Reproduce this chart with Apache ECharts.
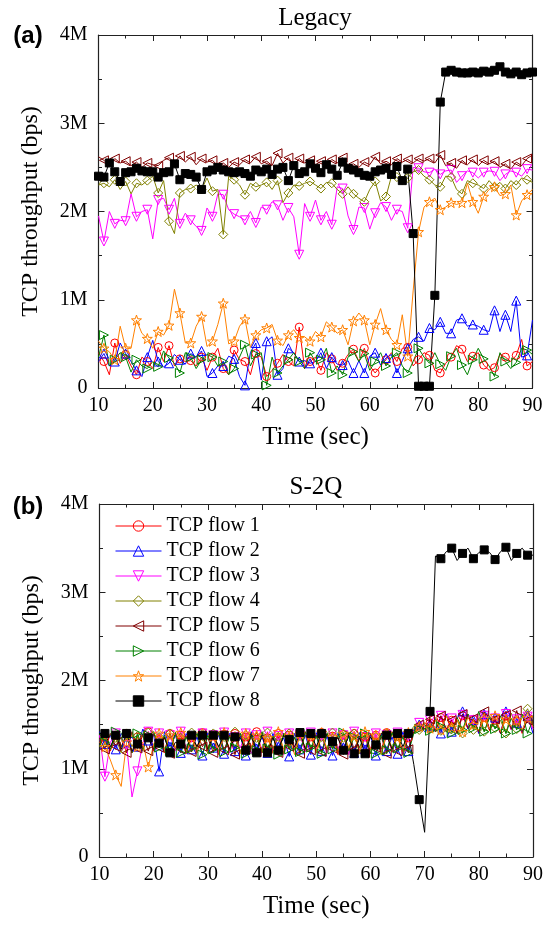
<!DOCTYPE html>
<html>
<head>
<meta charset="utf-8">
<script src="https://cdn.jsdelivr.net/npm/echarts@6/dist/echarts.min.js"></script>
<style>
  html, body { margin: 0; padding: 0; background: #fff; }
  #chart { width: 553px; height: 929px; }
</style>
</head>
<body>
<div id="chart"></div>
<script>
// time axis (sec)
var times = [10, 11, 12, 13, 14, 15, 16, 17, 18, 19, 20, 21, 22, 23, 24, 25, 26, 27, 28, 29,
    30, 31, 32, 33, 34, 35, 36, 37, 38, 39, 40, 41, 42, 43, 44, 45, 46, 47, 48, 49,
    50, 51, 52, 53, 54, 55, 56, 57, 58, 59, 60, 61, 62, 63, 64, 65, 66, 67, 68, 69,
    70, 71, 72, 73, 74, 75, 76, 77, 78, 79, 80, 81, 82, 83, 84, 85, 86, 87, 88, 89, 90];
var flowNames = ['TCP flow 1', 'TCP flow 2', 'TCP flow 3', 'TCP flow 4', 'TCP flow 5', 'TCP flow 6', 'TCP flow 7', 'TCP flow 8'];
var yTicks = [0, 1, 2, 3, 4];  // Mbps
var xTicks = [10, 20, 30, 40, 50, 60, 70, 80, 90];

// (a) Legacy, throughput in Mbps
var legacy1 = [0.40, 0.30, 0.15, 0.51, 0.28, 0.38, 0.25, 0.15, 0.35, 0.30,
    0.22, 0.46, 0.30, 0.48, 0.25, 0.33, 0.30, 0.31, 0.25, 0.35,
    0.20, 0.35, 0.45, 0.22, 0.15, 0.43, 0.32, 0.30, 0.15, 0.39,
    0.35, 0.13, 0.20, 0.28, 0.38, 0.30, 0.25, 0.69, 0.22, 0.30,
    0.35, 0.20, 0.40, 0.33, 0.20, 0.28, 0.38, 0.44, 0.30, 0.45,
    0.25, 0.17, 0.25, 0.32, 0.40, 0.30, 0.45, 0.46, 0.25, 0.32,
    0.40, 0.37, 0.20, 0.17, 0.28, 0.35, 0.48, 0.44, 0.30, 0.36,
    0.40, 0.26, 0.20, 0.23, 0.38, 0.35, 0.30, 0.37, 0.55, 0.25, 0.30];
var legacy2 = [0.30, 0.39, 0.25, 0.30, 0.51, 0.39, 0.30, 0.20, 0.13, 0.35,
    0.54, 0.30, 0.24, 0.28, 0.38, 0.32, 0.27, 0.39, 0.35, 0.42,
    0.13, 0.17, 0.25, 0.25, 0.36, 0.33, 0.13, 0.03, 0.40, 0.51,
    0.09, 0.53, 0.58, 0.15, 0.22, 0.45, 0.40, 0.30, 0.31, 0.28,
    0.30, 0.40, 0.22, 0.35, 0.27, 0.26, 0.31, 0.17, 0.31, 0.17,
    0.36, 0.40, 0.26, 0.34, 0.38, 0.17, 0.31, 0.45, 0.55, 0.58,
    0.53, 0.68, 0.66, 0.75, 0.62, 0.62, 0.77, 0.79, 0.70, 0.72,
    0.70, 0.66, 0.64, 0.88, 0.64, 0.83, 0.64, 0.99, 0.35, 0.37, 0.77];
var legacy3 = [1.95, 1.66, 2.00, 1.86, 1.90, 1.89, 2.20, 1.94, 2.00, 2.02,
    1.69, 2.13, 2.15, 2.02, 2.15, 1.86, 1.98, 1.90, 1.83, 1.78,
    2.04, 1.94, 2.20, 2.19, 2.02, 1.97, 1.94, 1.90, 2.00, 1.87,
    2.05, 2.02, 2.11, 2.07, 1.90, 2.04, 1.94, 1.51, 2.09, 1.94,
    2.13, 1.90, 2.00, 1.85, 2.28, 2.26, 1.95, 1.79, 2.05, 2.04,
    1.80, 1.98, 2.10, 2.05, 1.90, 2.02, 2.00, 1.81, 2.50, 2.49,
    2.45, 2.44, 2.48, 2.42, 2.46, 2.47, 2.33, 2.40, 2.46, 2.44,
    2.38, 2.44, 2.46, 2.45, 2.35, 2.42, 2.46, 2.44, 2.40, 2.48, 2.47];
var legacy4 = [2.30, 2.32, 2.28, 2.36, 2.25, 2.34, 2.20, 2.32, 2.30, 2.35,
    2.40, 2.21, 2.35, 1.89, 1.75, 2.21, 2.25, 2.26, 2.30, 2.25,
    2.38, 2.23, 2.25, 1.74, 2.40, 2.36, 2.30, 2.19, 2.32, 2.28,
    2.30, 2.33, 2.25, 2.35, 2.10, 2.21, 2.30, 2.29, 2.32, 2.34,
    2.30, 2.26, 2.33, 2.32, 2.25, 2.20, 2.28, 2.20, 2.15, 2.11,
    2.25, 2.34, 2.12, 2.17, 2.40, 2.39, 2.30, 2.38, 2.45, 2.47,
    2.40, 2.36, 2.30, 2.28, 2.40, 2.39, 2.25, 2.20, 2.35, 2.32,
    2.30, 2.26, 2.35, 2.28, 2.33, 2.26, 2.35, 2.30, 2.38, 2.36, 2.33];
var legacy5 = [2.62, 2.58, 2.52, 2.60, 2.55, 2.57, 2.52, 2.56, 2.50, 2.55,
    2.53, 2.52, 2.58, 2.61, 2.55, 2.63, 2.56, 2.62, 2.53, 2.60,
    2.56, 2.58, 2.52, 2.55, 2.50, 2.56, 2.53, 2.59, 2.55, 2.62,
    2.54, 2.57, 2.52, 2.66, 2.55, 2.61, 2.53, 2.60, 2.55, 2.58,
    2.53, 2.57, 2.52, 2.59, 2.55, 2.61, 2.52, 2.54, 2.50, 2.56,
    2.53, 2.62, 2.54, 2.57, 2.53, 2.60, 2.56, 2.59, 2.55, 2.60,
    2.57, 2.60, 2.55, 2.64, 2.52, 2.55, 2.49, 2.58, 2.53, 2.59,
    2.52, 2.58, 2.54, 2.57, 2.50, 2.54, 2.48, 2.56, 2.52, 2.60, 2.64];
var legacy6 = [0.35, 0.60, 0.25, 0.32, 0.40, 0.35, 0.18, 0.32, 0.25, 0.22,
    0.30, 0.24, 0.42, 0.34, 0.28, 0.17, 0.40, 0.35, 0.22, 0.32,
    0.38, 0.35, 0.25, 0.30, 0.15, 0.22, 0.35, 0.49, 0.25, 0.38,
    0.40, 0.03, 0.35, 0.17, 0.25, 0.32, 0.40, 0.30, 0.22, 0.40,
    0.30, 0.32, 0.45, 0.17, 0.25, 0.15, 0.35, 0.41, 0.30, 0.39,
    0.20, 0.30, 0.40, 0.25, 0.35, 0.40, 0.25, 0.17, 0.30, 0.45,
    0.35, 0.28, 0.40, 0.27, 0.20, 0.36, 0.45, 0.26, 0.15, 0.32,
    0.45, 0.33, 0.25, 0.13, 0.40, 0.30, 0.22, 0.29, 0.45, 0.43, 0.38];
var legacy7 = [0.53, 0.45, 0.41, 0.32, 0.70, 0.45, 0.45, 0.77, 0.62, 0.56,
    0.45, 0.64, 0.60, 0.71, 1.12, 0.85, 0.51, 0.51, 0.70, 0.81,
    0.47, 0.53, 0.72, 0.96, 0.50, 0.53, 0.70, 0.78, 0.46, 0.60,
    0.66, 0.68, 0.72, 0.54, 0.48, 0.60, 0.66, 0.57, 0.58, 0.53,
    0.64, 0.58, 0.75, 0.69, 0.62, 0.66, 0.49, 0.76, 0.85, 0.77,
    0.49, 0.72, 0.90, 0.66, 0.55, 0.49, 0.83, 0.36, 1.10, 1.77,
    2.05, 2.11, 2.15, 2.02, 2.05, 2.10, 2.08, 2.10, 2.32, 2.11,
    1.98, 2.17, 2.25, 2.28, 2.18, 2.20, 2.30, 1.96, 2.12, 2.19, 2.25];
var legacy8 = [2.40, 2.39, 2.55, 2.45, 2.34, 2.44, 2.45, 2.49, 2.46, 2.45,
    2.45, 2.39, 2.44, 2.45, 2.54, 2.36, 2.43, 2.42, 2.39, 2.25,
    2.45, 2.47, 2.50, 2.47, 2.45, 2.44, 2.45, 2.43, 2.40, 2.47,
    2.45, 2.48, 2.42, 2.48, 2.50, 2.35, 2.52, 2.43, 2.45, 2.54,
    2.49, 2.44, 2.53, 2.48, 2.41, 2.56, 2.49, 2.47, 2.44, 2.41,
    2.40, 2.45, 2.47, 2.49, 2.42, 2.51, 2.35, 2.48, 1.75, 0.02,
    0.02, 0.02, 1.05, 3.24, 3.58, 3.60, 3.58, 3.57, 3.57, 3.58,
    3.57, 3.59, 3.58, 3.60, 3.64, 3.58, 3.56, 3.58, 3.55, 3.57, 3.58];

// (b) S-2Q, throughput in Mbps
var s2q1 = [1.30, 1.35, 1.20, 1.38, 1.25, 1.40, 1.18, 1.36, 1.24, 1.42,
    1.20, 1.33, 1.18, 1.40, 1.22, 1.38, 1.17, 1.35, 1.25, 1.41,
    1.20, 1.37, 1.16, 1.39, 1.22, 1.40, 1.19, 1.36, 1.24, 1.42,
    1.18, 1.35, 1.21, 1.40, 1.17, 1.38, 1.23, 1.40, 1.19, 1.36,
    1.22, 1.41, 1.18, 1.37, 1.16, 1.39, 1.21, 1.40, 1.20, 1.36,
    1.17, 1.38, 1.22, 1.41, 1.19, 1.37, 1.16, 1.35, 1.40, 1.47,
    1.45, 1.52, 1.44, 1.58, 1.42, 1.55, 1.40, 1.60, 1.45, 1.56,
    1.40, 1.58, 1.43, 1.55, 1.41, 1.60, 1.44, 1.54, 1.40, 1.58, 1.46];
var s2q2 = [1.42, 1.28, 1.38, 1.22, 1.40, 1.30, 1.36, 1.25, 1.45, 1.32,
    1.38, 0.97, 1.42, 1.25, 1.38, 1.18, 1.40, 1.22, 1.36, 1.15,
    1.41, 1.24, 1.38, 1.17, 1.40, 1.20, 1.37, 1.15, 1.42, 1.23,
    1.36, 1.18, 1.40, 1.25, 1.35, 1.14, 1.40, 1.22, 1.38, 1.16,
    1.41, 1.20, 1.37, 1.15, 1.40, 1.24, 1.36, 1.18, 1.41, 1.22,
    1.38, 1.15, 1.40, 1.20, 1.36, 1.17, 1.42, 1.20, 1.45, 1.50,
    1.42, 1.48, 1.56, 1.40, 1.62, 1.42, 1.58, 1.65, 1.45, 1.55,
    1.40, 1.62, 1.44, 1.58, 1.40, 1.65, 1.45, 1.52, 1.42, 1.60, 1.40];
var s2q3 = [1.38, 0.91, 1.30, 1.40, 1.20, 1.27, 0.68, 0.97, 1.30, 1.42,
    1.25, 1.40, 1.22, 1.38, 1.20, 1.42, 1.24, 1.36, 1.18, 1.40,
    1.22, 1.38, 1.20, 1.41, 1.18, 1.36, 1.24, 1.40, 1.17, 1.38,
    1.22, 1.42, 1.20, 1.37, 1.16, 1.40, 1.24, 1.38, 1.19, 1.41,
    1.21, 1.37, 1.18, 1.40, 1.22, 1.38, 1.16, 1.42, 1.20, 1.36,
    1.23, 1.40, 1.18, 1.38, 1.21, 1.41, 1.17, 1.37, 1.45, 1.52,
    1.48, 1.55, 1.46, 1.60, 1.44, 1.57, 1.42, 1.61, 1.46, 1.55,
    1.42, 1.60, 1.45, 1.57, 1.41, 1.62, 1.44, 1.56, 1.42, 1.59, 1.45];
var s2q4 = [1.25, 1.38, 1.22, 1.35, 1.18, 1.40, 1.25, 1.37, 1.20, 1.41,
    1.24, 1.36, 1.19, 1.40, 1.23, 1.35, 1.18, 1.41, 1.22, 1.37,
    1.17, 1.40, 1.24, 1.36, 1.20, 1.42, 1.18, 1.38, 1.22, 1.35,
    1.19, 1.41, 1.23, 1.36, 1.17, 1.40, 1.21, 1.37, 1.24, 1.39,
    1.18, 1.36, 1.22, 1.41, 1.19, 1.35, 1.24, 1.40, 1.17, 1.38,
    1.21, 1.36, 1.16, 1.40, 1.23, 1.37, 1.20, 1.39, 1.48, 1.44,
    1.52, 1.46, 1.58, 1.43, 1.60, 1.45, 1.55, 1.40, 1.62, 1.44,
    1.57, 1.42, 1.60, 1.46, 1.55, 1.40, 1.63, 1.45, 1.58, 1.68, 1.50];
var s2q5 = [1.35, 1.22, 1.40, 1.25, 1.36, 1.18, 1.42, 1.23, 1.38, 1.20,
    1.40, 1.24, 1.36, 1.17, 1.41, 1.22, 1.37, 1.19, 1.40, 1.25,
    1.35, 1.18, 1.42, 1.21, 1.38, 1.16, 1.40, 1.24, 1.36, 1.19,
    1.41, 1.22, 1.37, 1.18, 1.40, 1.25, 1.35, 1.17, 1.42, 1.21,
    1.38, 1.19, 1.40, 1.23, 1.36, 1.16, 1.41, 1.22, 1.37, 1.18,
    1.40, 1.24, 1.36, 1.17, 1.42, 1.20, 1.38, 1.22, 1.42, 1.50,
    1.45, 1.56, 1.42, 1.60, 1.45, 1.55, 1.40, 1.62, 1.46, 1.57,
    1.42, 1.65, 1.44, 1.56, 1.40, 1.61, 1.45, 1.66, 1.42, 1.55, 1.60];
var s2q6 = [1.40, 1.30, 1.22, 1.42, 1.25, 1.36, 1.18, 1.40, 1.22, 1.38,
    1.42, 1.24, 1.38, 1.20, 1.41, 1.18, 1.36, 1.23, 1.40, 1.16,
    1.38, 1.22, 1.41, 1.19, 1.36, 1.24, 1.40, 1.17, 1.38, 1.21,
    1.42, 1.23, 1.37, 1.16, 1.40, 1.22, 1.36, 1.19, 1.41, 1.24,
    1.37, 1.17, 1.40, 1.22, 1.38, 1.41, 1.20, 1.36, 1.24, 1.40,
    1.18, 1.17, 1.38, 1.21, 1.41, 1.23, 1.36, 1.18, 1.40, 1.45,
    1.50, 1.43, 1.55, 1.48, 1.42, 1.40, 1.58, 1.44, 1.62, 1.46,
    1.65, 1.42, 1.58, 1.45, 1.60, 1.40, 1.57, 1.44, 1.62, 1.40, 1.56];
var s2q7 = [1.30, 1.25, 1.10, 0.93, 0.80, 1.30, 1.38, 1.25, 1.30, 1.02,
    1.28, 1.40, 1.22, 1.38, 1.24, 1.41, 1.20, 1.36, 1.18, 1.40,
    1.23, 1.37, 1.19, 1.41, 1.22, 1.36, 1.17, 1.40, 1.24, 1.38,
    1.20, 1.35, 1.18, 1.42, 1.22, 1.37, 1.16, 1.40, 1.23, 1.38,
    1.19, 1.41, 1.22, 1.36, 1.18, 1.40, 1.24, 1.37, 1.20, 1.42,
    1.22, 1.38, 1.17, 1.40, 1.23, 1.36, 1.19, 1.41, 1.45, 1.48,
    1.52, 1.46, 1.55, 1.44, 1.60, 1.47, 1.56, 1.42, 1.58, 1.50,
    1.44, 1.57, 1.45, 1.60, 1.42, 1.56, 1.48, 1.55, 1.44, 1.58, 1.48];
var s2q8 = [1.40, 1.40, 1.25, 1.38, 1.22, 1.40, 1.20, 1.28, 1.40, 1.35,
    1.22, 1.29, 1.35, 1.18, 1.30, 1.28, 1.22, 1.38, 1.25, 1.38,
    1.22, 1.38, 1.25, 1.38, 1.22, 1.36, 1.35, 1.21, 1.40, 1.18,
    1.38, 1.18, 1.35, 1.21, 1.38, 1.33, 1.25, 1.41, 1.22, 1.40,
    1.25, 1.40, 1.38, 1.31, 1.35, 1.21, 1.38, 1.17, 1.35, 1.17,
    1.36, 1.27, 1.40, 1.38, 1.22, 1.40, 1.25, 1.40, 1.05, 0.65,
    0.28, 1.65, 3.41, 3.38, 3.46, 3.50, 3.36, 3.44, 3.50, 3.38,
    3.45, 3.48, 3.45, 3.37, 3.46, 3.51, 3.36, 3.44, 3.50, 3.42, 3.42];

var legacyData = [legacy1, legacy2, legacy3, legacy4, legacy5, legacy6, legacy7, legacy8];
var s2qData = [s2q1, s2q2, s2q3, s2q4, s2q5, s2q6, s2q7, s2q8];

// marker styles, one per flow
var starPath = 'path://M0,-10L2.35,-3.24L9.51,-3.09L3.8,1.24L5.88,8.09L0,4L-5.88,8.09L-3.8,1.24L-9.51,-3.09L-2.35,-3.24Z';
var flowStyles = [
    { color: '#ff0000', symbol: 'circle', size: 8, rotate: 0 },
    { color: '#0000ff', symbol: 'triangle', size: 9, rotate: 0 },
    { color: '#ff00ff', symbol: 'triangle', size: 9, rotate: 180 },
    { color: '#808000', symbol: 'diamond', size: 9, rotate: 0 },
    { color: '#800000', symbol: 'triangle', size: 9, rotate: 90 },
    { color: '#008000', symbol: 'triangle', size: 9, rotate: -90 },
    { color: '#ff8000', symbol: starPath, size: 10, rotate: 0 },
    { color: '#000000', symbol: 'rect', size: 8, rotate: 0, filled: true }
];

var serifFont = 'Liberation Serif';
var axisColor = '#222';
var hollow = 'rgba(255,255,255,0)';

function makeSeries(vals, k, axisIdx, everyPoint) {
    var st = flowStyles[k];
    return {
        name: flowNames[k],
        type: 'line',
        xAxisIndex: axisIdx,
        yAxisIndex: axisIdx,
        data: vals.map(function (v, i) {
            var item = { value: [times[i], v] };
            if (!everyPoint && i % 2 === 0) item.symbol = 'none';
            return item;
        }),
        symbol: st.symbol,
        symbolSize: st.size,
        symbolRotate: st.rotate,
        showAllSymbol: true,
        lineStyle: { color: st.color, width: 1 },
        itemStyle: { color: st.filled ? st.color : hollow, borderColor: st.color, borderWidth: 1 },
        emphasis: { disabled: true }
    };
}

function xAxisOpt(gridIdx, pos, withLabels) {
    return {
        type: 'value', gridIndex: gridIdx, position: pos,
        min: xTicks[0], max: xTicks[xTicks.length - 1], interval: 10,
        axisLine: { show: true, onZero: false, lineStyle: { color: axisColor, width: 1.2 } },
        axisTick: { show: true, inside: true, length: 6, lineStyle: { color: axisColor } },
        minorTick: { show: true, splitNumber: 2, length: 3.5, lineStyle: { color: axisColor } },
        splitLine: { show: false },
        axisLabel: { show: withLabels, margin: 8, color: '#000', fontFamily: serifFont, fontSize: 20 },
        name: withLabels ? 'Time (sec)' : '',
        nameLocation: 'middle', nameGap: 37,
        nameTextStyle: { color: '#000', fontFamily: serifFont, fontSize: 25 }
    };
}

function yAxisOpt(gridIdx, pos, withLabels) {
    return {
        type: 'value', gridIndex: gridIdx, position: pos,
        min: yTicks[0], max: yTicks[yTicks.length - 1], interval: 1,
        axisLine: { show: true, onZero: false, lineStyle: { color: axisColor, width: 1.2 } },
        axisTick: { show: true, inside: true, length: 6, lineStyle: { color: axisColor } },
        minorTick: { show: true, splitNumber: 2, length: 3.5, lineStyle: { color: axisColor } },
        splitLine: { show: false },
        axisLabel: {
            show: withLabels, margin: 11, color: '#000', fontFamily: serifFont, fontSize: 20,
            formatter: function (v) { return v === 0 ? '0' : v + 'M'; }
        },
        name: withLabels ? 'TCP throughput (bps)' : '',
        nameLocation: 'middle', nameGap: 56, nameRotate: 90,
        nameTextStyle: { color: '#000', fontFamily: serifFont, fontSize: 24 }
    };
}

function textEl(txt, x, y, font) {
    return {
        type: 'text', x: x, y: y,
        style: { text: txt, font: font, fill: '#000', align: 'center', verticalAlign: 'middle',
            textAlign: 'center', textVerticalAlign: 'middle' }
    };
}

var series = [];
legacyData.forEach(function (vals, k) { series.push(makeSeries(vals, k, 0, k === 7)); });
s2qData.forEach(function (vals, k) { series.push(makeSeries(vals, k, 2, false)); });

// legend entries: thin line + hollow marker (filled square for flow 8)
var legendItems = flowNames.map(function (name, k) {
    var st = flowStyles[k];
    return {
        name: name,
        itemStyle: { color: st.filled ? st.color : hollow, borderColor: st.color, borderWidth: 1 },
        lineStyle: { color: st.color, width: 1 }
    };
});

var option = {
    animation: false,
    backgroundColor: '#fff',
    grid: [
        { left: 98.5, top: 35, width: 434, height: 353 },
        { left: 99.5, top: 504, width: 433.5, height: 353 }
    ],
    xAxis: [xAxisOpt(0, 'bottom', true), xAxisOpt(0, 'top', false), xAxisOpt(1, 'bottom', true), xAxisOpt(1, 'top', false)],
    yAxis: [yAxisOpt(0, 'left', true), yAxisOpt(0, 'right', false), yAxisOpt(1, 'left', true), yAxisOpt(1, 'right', false)],
    legend: {
        orient: 'vertical', left: 115, top: 516, padding: 0,
        itemWidth: 46, itemHeight: 13, itemGap: 5,
        selectedMode: false,
        data: legendItems,
        textStyle: { color: '#000', fontFamily: serifFont, fontSize: 20, lineHeight: 20 }
    },
    graphic: [
        textEl('Legacy', 315, 18, '25px "Liberation Serif"'),
        textEl('S-2Q', 316, 487, '25px "Liberation Serif"'),
        textEl('(a)', 28, 36, 'bold 24px "Liberation Sans"'),
        textEl('(b)', 28, 507, 'bold 24px "Liberation Sans"')
    ],
    series: series
};

var chart = echarts.init(document.getElementById('chart'), null, { renderer: 'canvas' });
chart.setOption(option);
</script>
</body>
</html>
